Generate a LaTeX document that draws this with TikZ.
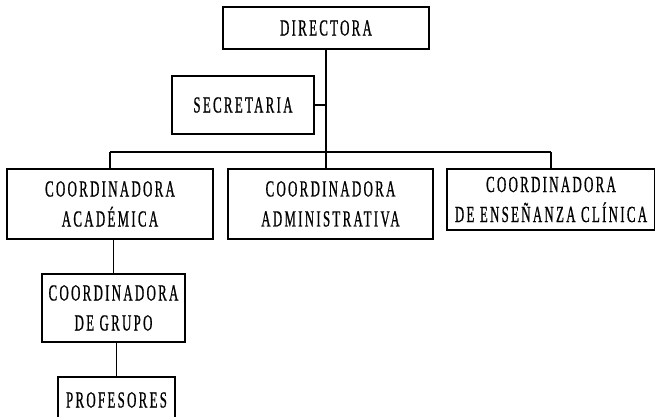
\documentclass[tikz,border=0pt]{standalone}
\usepackage{fontspec}
\setmainfont{Liberation Serif}[FakeStretch=0.56,LetterSpace=10,FakeBold=0.7]
\begin{document}
\begin{tikzpicture}[x=1pt,y=-1pt,
  box/.style={draw=black,line width=1.3pt,rectangle,inner sep=0pt,align=center,
    font=\fontsize{23}{30}\selectfont},
  link/.style={draw=black,line width=1.3pt}]
\useasboundingbox (0,0) rectangle (655,417);
\clip (0,0) rectangle (655,417);
\fill[white] (0,0) rectangle (655,417);
\node[box,minimum width=206,minimum height=42] (dir) at (326,28) {DIRECTORA};
\node[box,minimum width=142,minimum height=58] (sec) at (243,105) {SECRETARIA};
\node[box,minimum width=206,minimum height=70] (aca) at (110,204) {COORDINADORA\\ACADÉMICA};
\node[box,minimum width=205,minimum height=70] (adm) at (330.5,204) {COORDINADORA\\ADMINISTRATIVA};
\node[box,minimum width=208,minimum height=61] (ens) at (551,199.5) {COORDINADORA\\DE ENSEÑANZA CLÍNICA};
\node[box,minimum width=143,minimum height=68] (gru) at (113.5,308) {COORDINADORA\\DE GRUPO};
\node[box,minimum width=117,minimum height=46] (pro) at (116.5,400) {PROFESORES};
\coordinate (busL) at (110,152);
\coordinate (busR) at (551,152);
\draw[link] (busL) -- (busR);
\draw[link] (dir.south) -- (dir.south |- adm.north);
\draw[link] (sec.east) -- (sec.east -| dir.south);
\draw[link] (aca.north) -- (busL);
\draw[link] (ens.north) -- (busR);
\draw[link] (gru.north |- aca.south) -- (gru.north);
\draw[link] (pro.north |- gru.south) -- (pro.north);
\end{tikzpicture}
\end{document}
